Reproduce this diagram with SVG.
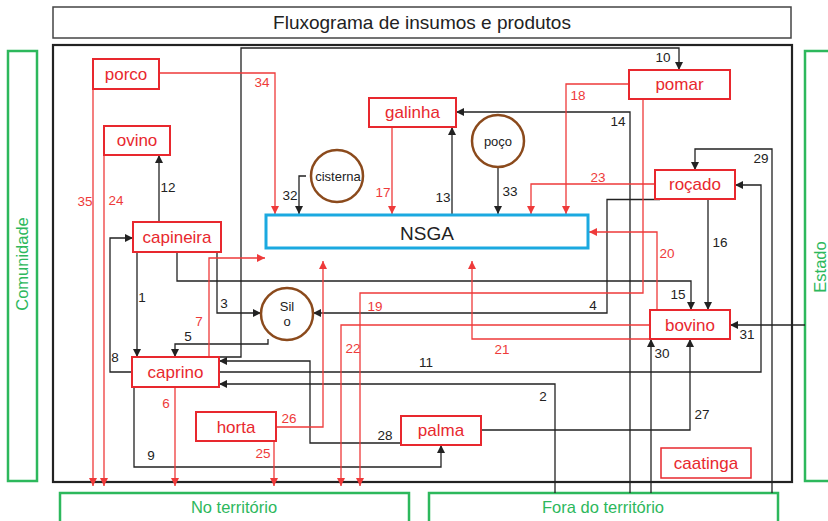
<svg xmlns="http://www.w3.org/2000/svg" width="828" height="521" viewBox="0 0 828 521">
<defs>
<style>
text{font-family:"Liberation Sans",Arial,sans-serif}
.node rect{fill:#fff;stroke:#e8282e;stroke-width:2}
.node text{fill:#e8282e;font-size:17px;text-anchor:middle}
.circ circle{fill:#fff;stroke:#8b4a1c;stroke-width:2.5}
.circ text{fill:#222;font-size:13px;text-anchor:middle}
.area rect{fill:none;stroke:#2db85c;stroke-width:2.5}
.area text{fill:#2db85c;font-size:16.5px;text-anchor:middle}
.cb{fill:none;stroke:#222;stroke-width:1.3;marker-end:url(#ab)}
.cr{fill:none;stroke:#ee3a3a;stroke-width:1.3;marker-end:url(#ar)}
.lb{fill:#222;font-size:13.5px;text-anchor:middle}
.lr{fill:#ee3a3a;font-size:13.5px;text-anchor:middle}
</style>
<marker id="ab" viewBox="0 0 10 10" refX="10" refY="5" markerWidth="8" markerHeight="8" markerUnits="userSpaceOnUse" orient="auto"><path d="M0,0 L10,5 L0,10 z" fill="#222"/></marker>
<marker id="ar" viewBox="0 0 10 10" refX="10" refY="5" markerWidth="8" markerHeight="8" markerUnits="userSpaceOnUse" orient="auto"><path d="M0,0 L10,5 L0,10 z" fill="#ee3a3a"/></marker>
</defs>
<rect width="828" height="521" fill="#fff"/>
<g id="title">
<rect x="53" y="7" width="738" height="31" fill="#fff" stroke="#444" stroke-width="1.5"/>
<text x="422" y="29" font-size="19" fill="#222" text-anchor="middle">Fluxograma de insumos e produtos</text>
</g>
<g id="frame"><rect x="53" y="45" width="739" height="437" fill="none" stroke="#222" stroke-width="2.2"/></g>
<g id="comunidade" class="area"><rect x="8" y="51" width="29" height="430"/><text transform="translate(28,264) rotate(-90)">Comunidade</text></g>
<g id="estado" class="area"><rect x="805" y="51" width="30" height="430"/><text transform="translate(826,267) rotate(-90)">Estado</text></g>
<g id="no-territorio" class="area"><rect x="60" y="493" width="349" height="40"/><text x="234" y="513">No território</text></g>
<g id="fora-territorio" class="area"><rect x="429" y="493" width="349" height="40"/><text x="603" y="513">Fora do território</text></g>

<g id="connectors">
<path class="cb" d="M137,252 V357"/>
<path class="cb" d="M555,493 V384 H219"/>
<path class="cb" d="M217,252 V313 H261"/>
<path class="cb" d="M660,199.5 H607 V313 H313"/>
<path class="cb" d="M268,339 V344 H175 V357"/>
<path class="cb" d="M132,372 H110 V238 H133"/>
<path class="cb" d="M134,387 V467 H441 V445"/>
<path class="cb" d="M219,357 H241 V48 H679 V70"/>
<path class="cb" d="M219,372 H761 V185 H735"/>
<path class="cb" d="M159,222 V155"/>
<path class="cb" d="M452,215 V127"/>
<path class="cb" d="M630,493 V112 H456"/>
<path class="cb" d="M177,252 V281 H691 V310"/>
<path class="cb" d="M708,199 V310"/>
<path class="cb" d="M481,430 H690 V339"/>
<path class="cb" d="M401,443 H310 V361 H219"/>
<path class="cb" d="M772,493 V149 H695 V170"/>
<path class="cb" d="M651,493 V339"/>
<path class="cb" d="M805,325 H730"/>
<path class="cb" d="M306,176 H299 V214"/>
<path class="cb" d="M498,167 V214"/>
<path class="cr" d="M175,387 V486"/>
<path class="cr" d="M209,357 V258 H265"/>
<path class="cr" d="M392,127 V214"/>
<path class="cr" d="M629,84 H566 V214"/>
<path class="cr" d="M643,99 V293 H360 V486"/>
<path class="cr" d="M657,310 V232 H589"/>
<path class="cr" d="M650,339 H472 V261"/>
<path class="cr" d="M650,325 H341 V486"/>
<path class="cr" d="M655,184 H531 V214"/>
<path class="cr" d="M104,155 V486"/>
<path class="cr" d="M274,441 V486"/>
<path class="cr" d="M276,427 H323 V261"/>
<path class="cr" d="M159,73 H275 V214"/>
<path class="cr" d="M93,89 V486"/>
<text class="lb" x="142" y="302">1</text>
<text class="lb" x="543" y="401">2</text>
<text class="lb" x="224" y="308">3</text>
<text class="lb" x="593" y="310">4</text>
<text class="lb" x="188" y="341">5</text>
<text class="lr" x="166" y="408">6</text>
<text class="lr" x="199" y="326">7</text>
<text class="lb" x="115" y="362">8</text>
<text class="lb" x="151" y="460">9</text>
<text class="lb" x="663" y="62">10</text>
<text class="lb" x="426" y="367">11</text>
<text class="lb" x="168" y="192">12</text>
<text class="lb" x="443" y="202">13</text>
<text class="lb" x="618" y="126">14</text>
<text class="lb" x="678" y="299">15</text>
<text class="lb" x="720" y="247">16</text>
<text class="lr" x="383" y="197">17</text>
<text class="lr" x="578" y="100">18</text>
<text class="lr" x="375" y="311">19</text>
<text class="lr" x="667" y="258">20</text>
<text class="lr" x="502" y="354">21</text>
<text class="lr" x="353" y="353">22</text>
<text class="lr" x="598" y="182">23</text>
<text class="lr" x="116" y="205">24</text>
<text class="lr" x="263" y="458">25</text>
<text class="lr" x="289" y="423">26</text>
<text class="lb" x="702" y="419">27</text>
<text class="lb" x="385" y="440">28</text>
<text class="lb" x="761" y="163">29</text>
<text class="lb" x="662" y="358">30</text>
<text class="lb" x="747" y="339">31</text>
<text class="lb" x="290" y="200">32</text>
<text class="lb" x="510" y="196">33</text>
<text class="lr" x="262" y="87">34</text>
<text class="lr" x="85" y="206">35</text>
</g>

<g id="nsga"><rect x="266" y="215" width="322" height="33" fill="#fff" stroke="#1ba9e0" stroke-width="3"/><text x="323" y="240" font-size="19" fill="#222" text-anchor="middle" dx="104">NSGA</text></g>
<g id="porco" class="node"><rect x="93" y="59" width="66" height="30"/><text x="126" y="80">porco</text></g>
<g id="ovino" class="node"><rect x="104" y="126" width="66" height="29"/><text x="137" y="146">ovino</text></g>
<g id="galinha" class="node"><rect x="369" y="98" width="87" height="29"/><text x="412.5" y="118">galinha</text></g>
<g id="pomar" class="node"><rect x="629" y="70" width="101" height="29"/><text x="679.5" y="90">pomar</text></g>
<g id="rocado" class="node"><rect x="655" y="170" width="80" height="29"/><text x="695" y="190">roçado</text></g>
<g id="capineira" class="node"><rect x="133" y="222" width="88" height="30"/><text x="177" y="243">capineira</text></g>
<g id="caprino" class="node"><rect x="132" y="357" width="87" height="30"/><text x="175.5" y="378">caprino</text></g>
<g id="bovino" class="node"><rect x="650" y="310" width="80" height="29"/><text x="690" y="331">bovino</text></g>
<g id="horta" class="node"><rect x="196" y="412" width="80" height="29"/><text x="236" y="433">horta</text></g>
<g id="palma" class="node"><rect x="401" y="416" width="80" height="29"/><text x="441" y="436">palma</text></g>
<g id="caatinga" class="node"><rect x="661" y="448" width="90" height="30" style="stroke-width:1.5"/><text x="706" y="469">caatinga</text></g>
<g id="cisterna" class="circ"><circle cx="337" cy="176" r="26"/><text x="338" y="181">cisterna</text></g>
<g id="poco" class="circ"><circle cx="498" cy="141" r="26"/><text x="498" y="146">poço</text></g>
<g id="silo" class="circ"><circle cx="287" cy="314" r="26"/><text x="287" y="311">Sil</text><text x="287" y="326">o</text></g>
</svg>
